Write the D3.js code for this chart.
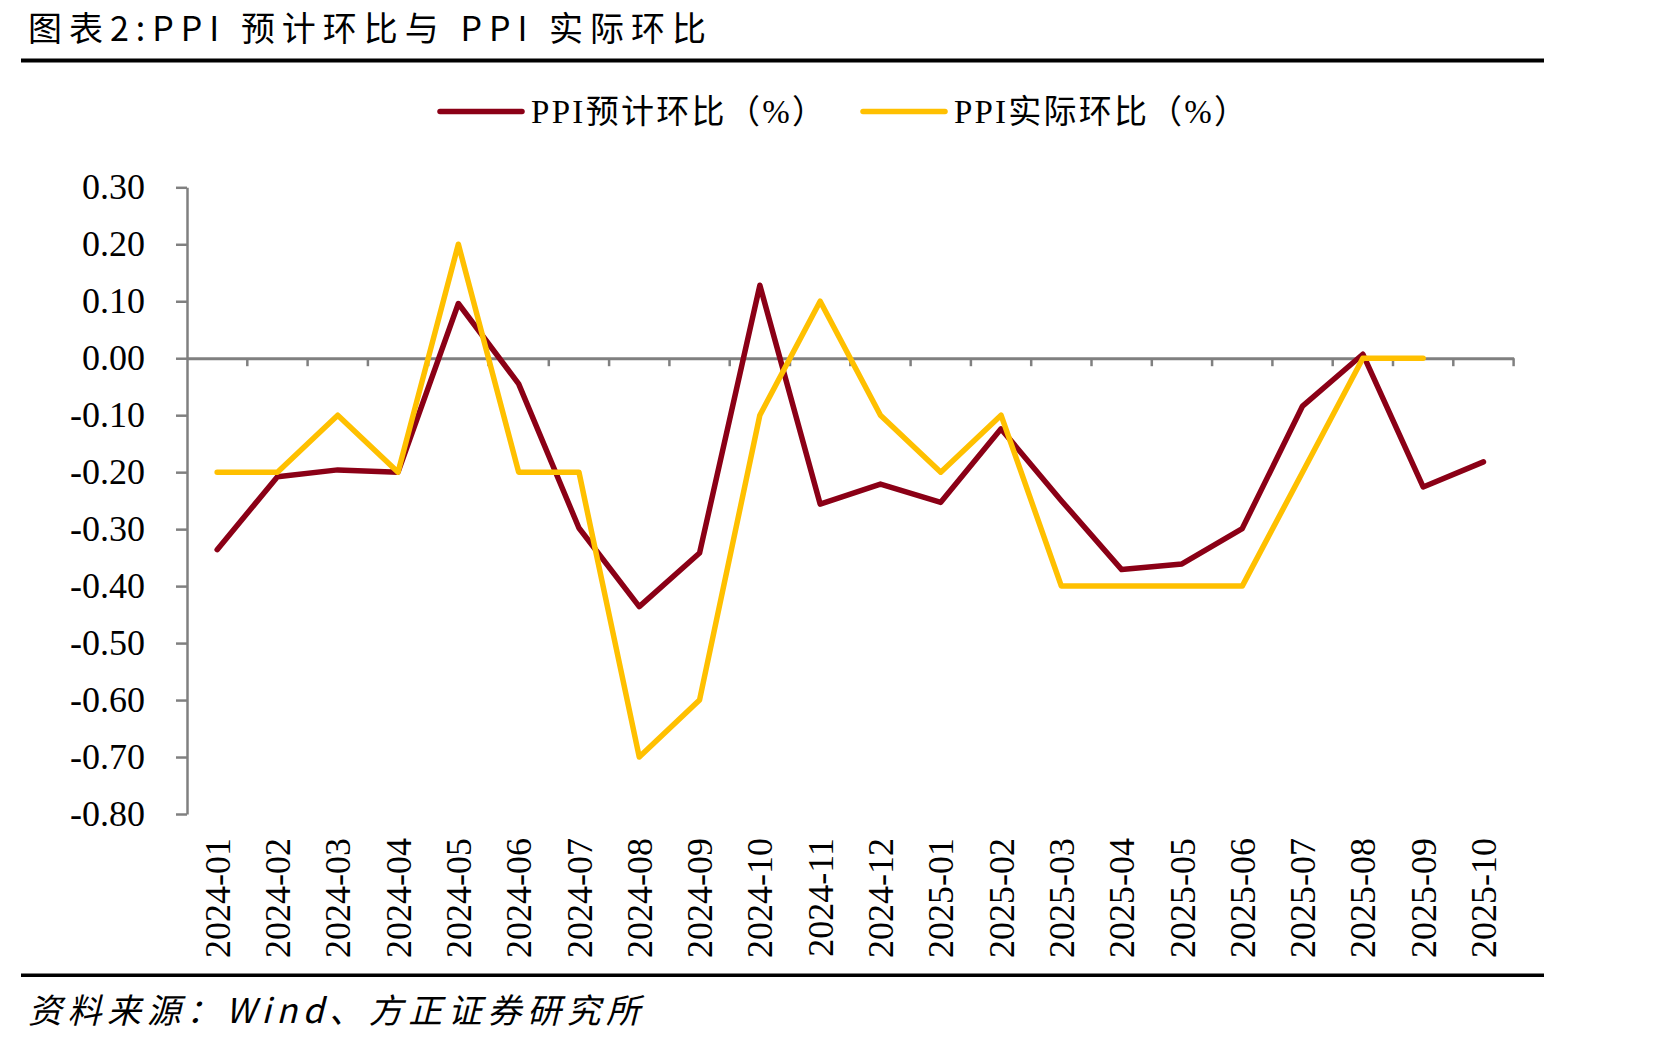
<!DOCTYPE html>
<html>
<head>
<meta charset="utf-8">
<script src="https://cdn.jsdelivr.net/npm/d3@7"></script>
<style>
  html, body { margin: 0; padding: 0; background: #ffffff; }
  svg { display: block; }
</style>
</head>
<body>
<svg id="chart" width="1671" height="1045"></svg>
<script>
// ---------- data ----------
const categories = ["2024-01","2024-02","2024-03","2024-04","2024-05","2024-06","2024-07","2024-08","2024-09","2024-10","2024-11","2024-12",
                    "2025-01","2025-02","2025-03","2025-04","2025-05","2025-06","2025-07","2025-08","2025-09","2025-10"];
const expectedMoM = [-0.336,-0.208,-0.196,-0.200,0.096,-0.045,-0.298,-0.436,-0.342,0.128,-0.256,-0.221,
                     -0.253,-0.124,-0.250,-0.371,-0.361,-0.299,-0.084,0.007,-0.226,-0.182];
const actualMoM   = [-0.2,-0.2,-0.1,-0.2,0.2,-0.2,-0.2,-0.7,-0.6,-0.1,0.1,-0.1,
                     -0.2,-0.1,-0.4,-0.4,-0.4,-0.4,-0.2,0.0,0.0,null];
const yTicks = [0.3,0.2,0.1,0.0,-0.1,-0.2,-0.3,-0.4,-0.5,-0.6,-0.7,-0.8];
const seriesNames = ["PPI预计环比（%）","PPI实际环比（%）"];
const seriesColors = ["#8B0016","#FFC000"];
const titleText = "图表2:PPI 预计环比与 PPI 实际环比";
const sourceText = "资料来源：Wind、方正证券研究所";

// ---------- layout ----------
const svg = d3.select("#chart");
const plotLeft = 187, plotRight = 1513.6, plotTop = 187.3, plotBottom = 814;
const serif = "'Liberation Serif','Times New Roman','Noto Sans CJK SC',serif";
const cjk = "'Noto Sans CJK SC','Noto Sans CJK JP',sans-serif";
const axisGray = "#808080";
const fmt = v => d3.format(".2f")(v).replace("\u2212", "-");

const x = d3.scaleBand().domain(categories).range([plotLeft, plotRight]).padding(0);
const y = d3.scaleLinear().domain([-0.8, 0.3]).range([plotBottom, plotTop]);

// title
svg.append("text")
  .attr("x", 28).attr("y", 41)
  .attr("font-family", cjk).attr("font-size", 34)
  .attr("textLength", 678).attr("lengthAdjust", "spacing")
  .attr("fill", "#000")
  .text(titleText);

svg.append("rect").attr("x", 21).attr("y", 58.5).attr("width", 1523).attr("height", 4).attr("fill", "#000");
svg.append("rect").attr("x", 21).attr("y", 973.5).attr("width", 1523).attr("height", 3.5).attr("fill", "#000");

// source
svg.append("text")
  .attr("transform", "translate(28,1023) skewX(-14)")
  .attr("font-family", cjk).attr("font-size", 34)
  .attr("textLength", 612).attr("lengthAdjust", "spacing")
  .attr("fill", "#000")
  .text(sourceText);

// legend
const legendPos = [{lx: 440, tx: 531, tw: 294}, {lx: 863, tx: 954, tw: 293}];
seriesNames.forEach((name, i) => {
  const p = legendPos[i];
  svg.append("line")
    .attr("x1", p.lx).attr("x2", p.lx + 82)
    .attr("y1", 111.5).attr("y2", 111.5)
    .attr("stroke", seriesColors[i]).attr("stroke-width", 5.5).attr("stroke-linecap", "round");
  svg.append("text")
    .attr("x", p.tx).attr("y", 123)
    .attr("font-family", serif).attr("font-size", 33)
    .attr("textLength", p.tw).attr("lengthAdjust", "spacing")
    .attr("fill", "#000")
    .text(name);
});

// y axis
const yAxis = d3.axisLeft(y).tickValues(yTicks).tickSize(11).tickSizeOuter(0).tickPadding(31)
  .tickFormat(fmt);
const gy = svg.append("g").attr("transform", `translate(${plotLeft},0)`).call(yAxis);
gy.selectAll("path.domain").attr("stroke", axisGray).attr("stroke-width", 2.5);
gy.selectAll(".tick line").attr("stroke", axisGray).attr("stroke-width", 2.5);
gy.selectAll(".tick text")
  .attr("font-family", serif).attr("font-size", 36).attr("fill", "#000");

// x axis at zero
const xAxis = d3.axisBottom(x).tickSize(0).tickSizeOuter(0).tickFormat("");
const gx = svg.append("g").attr("transform", `translate(0,${y(0)})`).call(xAxis);
gx.selectAll("path.domain").attr("stroke", axisGray).attr("stroke-width", 3);
gx.selectAll(".tick").remove();
svg.append("g").selectAll("line")
  .data(categories)
  .join("line")
  .attr("x1", d => x(d) + x.bandwidth()).attr("x2", d => x(d) + x.bandwidth())
  .attr("y1", y(0)).attr("y2", y(0) + 8)
  .attr("stroke", axisGray).attr("stroke-width", 2.5);

// x labels (low position)
svg.append("g").selectAll("text")
  .data(categories)
  .join("text")
  .attr("transform", d => `translate(${x(d) + x.bandwidth() / 2},838) rotate(-90)`)
  .attr("text-anchor", "end").attr("dy", "0.35em")
  .attr("font-family", serif).attr("font-size", 36).attr("fill", "#000")
  .text(d => d);

// lines
const seriesData = [expectedMoM, actualMoM];
const line = d3.line()
  .defined(d => d.v !== null && d.v !== undefined)
  .x(d => x(d.c) + x.bandwidth() / 2)
  .y(d => y(d.v));
seriesData.forEach((vals, i) => {
  svg.append("path")
    .datum(categories.map((c, k) => ({c, v: vals[k]})))
    .attr("d", line)
    .attr("fill", "none")
    .attr("stroke", seriesColors[i])
    .attr("stroke-width", 5.5)
    .attr("stroke-linejoin", "round")
    .attr("stroke-linecap", "round");
});
</script>
</body>
</html>
